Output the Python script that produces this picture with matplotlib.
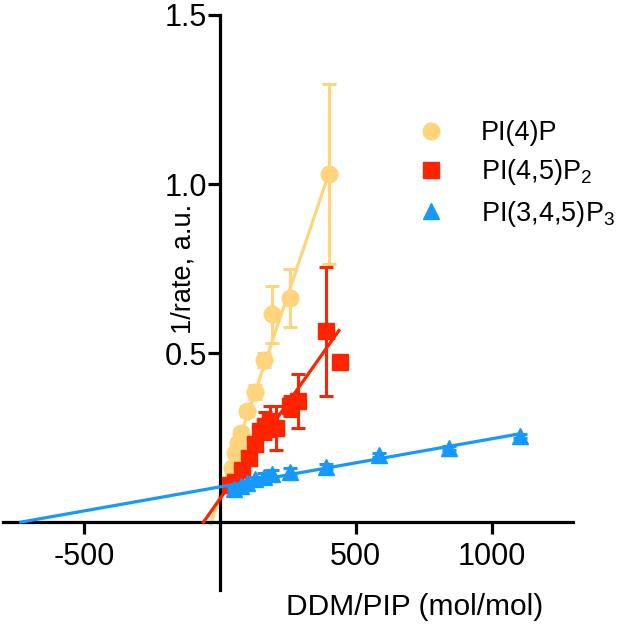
import numpy as np
import matplotlib
matplotlib.use("Agg")
import matplotlib.pyplot as plt
from matplotlib.lines import Line2D

plt.rcParams['font.family'] = ['Liberation Sans', 'DejaVu Sans']
plt.rcParams['mathtext.fontset'] = 'custom'
plt.rcParams['mathtext.rm'] = 'Liberation Sans'
plt.rcParams['mathtext.it'] = 'Liberation Sans'

# ---- data ----
labels = ["PI(4)P", "PI(4,5)P$_2$", "PI(3,4,5)P$_3$"]
colors = ["#FFD47C", "#FF2400", "#1698FF"]

pi4p_x = [45, 55, 65, 75, 100, 130, 160, 190, 257, 400]
pi4p_y = [0.16, 0.205, 0.235, 0.265, 0.33, 0.385, 0.48, 0.615, 0.663, 1.03]
pi4p_err = [0.01, 0.01, 0.012, 0.012, 0.015, 0.02, 0.02, 0.085, 0.086, 0.265]

pi45_x = [35, 55, 80, 105, 130, 145, 165, 185, 205, 257, 285, 390, 441]
pi45_y = [0.11, 0.118, 0.155, 0.19, 0.233, 0.27, 0.285, 0.30, 0.28, 0.345, 0.36, 0.565, 0.473]
pi45_err = [0.01, 0.01, 0.01, 0.012, 0.012, 0.015, 0.04, 0.045, 0.065, 0.03, 0.08, 0.19, 0.0]

pi345_x = [50, 75, 100, 130, 160, 190, 257, 390, 585, 842, 1103]
pi345_y = [0.10, 0.108, 0.117, 0.127, 0.135, 0.143, 0.15, 0.165, 0.198, 0.219, 0.254]
pi345_err = [0.005, 0.005, 0.006, 0.008, 0.01, 0.012, 0.012, 0.008, 0.006, 0.006, 0.006]

# fitted lines (slope, intercept, x-range)
fit_slope = [2.38e-3, 1.135e-3, 1.42e-4]
fit_icpt = [0.0785, 0.0704, 0.105]
fit_xrange = [(-37, 400), (-65, 441), (-740, 1103)]

xticks = [-500, 500, 1000]
yticks = [0.5, 1.0, 1.5]

# ---- figure ----
fig = plt.figure(figsize=(6.3, 6.31), dpi=100)
ax = fig.add_axes([3/630, 1-590/631, 570/630, 575/631])
ax.set_xlim(-800, 1300)
ax.set_ylim(-0.2, 1.5)

series = [
    (pi345_x, pi345_y, pi345_err, '^', 11, 2),
    (pi4p_x, pi4p_y, pi4p_err, 'o', 12, 0),
    (pi45_x, pi45_y, pi45_err, 's', 12, 1),
]
for (xs, ys, es, mk, ms, ci) in series:
    c = colors[ci]
    x0, x1 = fit_xrange[ci]
    xl = np.array([x0, x1])
    ax.plot(xl, fit_slope[ci] * xl + fit_icpt[ci], color=c, lw=2.3,
            solid_capstyle='butt', zorder=2 + ci)
    ax.errorbar(xs, ys, yerr=es, fmt=mk, ms=ms, color=c, mec=c,
                elinewidth=2.2, capsize=4.7, capthick=2.2, zorder=2 + ci,
                clip_on=False)

# spines crossing at origin
for s in ['top', 'right']:
    ax.spines[s].set_visible(False)
ax.spines['left'].set_position(('data', 0))
ax.spines['bottom'].set_position(('data', 0))
ax.spines['left'].set_linewidth(2.3)
ax.spines['bottom'].set_linewidth(2.3)

ax.set_xticks(xticks)
ax.set_xticklabels([str(v) for v in xticks])
ax.set_yticks(yticks)
ax.set_yticklabels([f"{v:.1f}" for v in yticks])
ax.tick_params(axis='x', direction='out', length=8.5, width=2.3, labelsize=22, pad=6)
ax.tick_params(axis='y', direction='out', length=8.5, width=2.3, labelsize=22, pad=1)

fig.text(183/630, 1-269/631, "1/rate, a.u.", fontsize=19.5, rotation=90,
         ha='center', va='center')
fig.text(415/630, 1-607/631, "DDM/PIP (mol/mol)", fontsize=21.5,
         ha='center', va='center')

handles = [Line2D([], [], ls='none', marker=m, ms=ms, color=c)
           for m, ms, c in [('o', 12, colors[0]), ('s', 11, colors[1]), ('^', 11, colors[2])]]
ax.legend(handles, labels, loc='upper left', bbox_to_anchor=(417/630, 1-120/631),
          bbox_transform=fig.transFigure, frameon=False, fontsize=19.5,
          handlelength=1.0, handletextpad=1.35, borderpad=0, borderaxespad=0,
          labelspacing=0.42)

fig.savefig("out.png", dpi=100)
